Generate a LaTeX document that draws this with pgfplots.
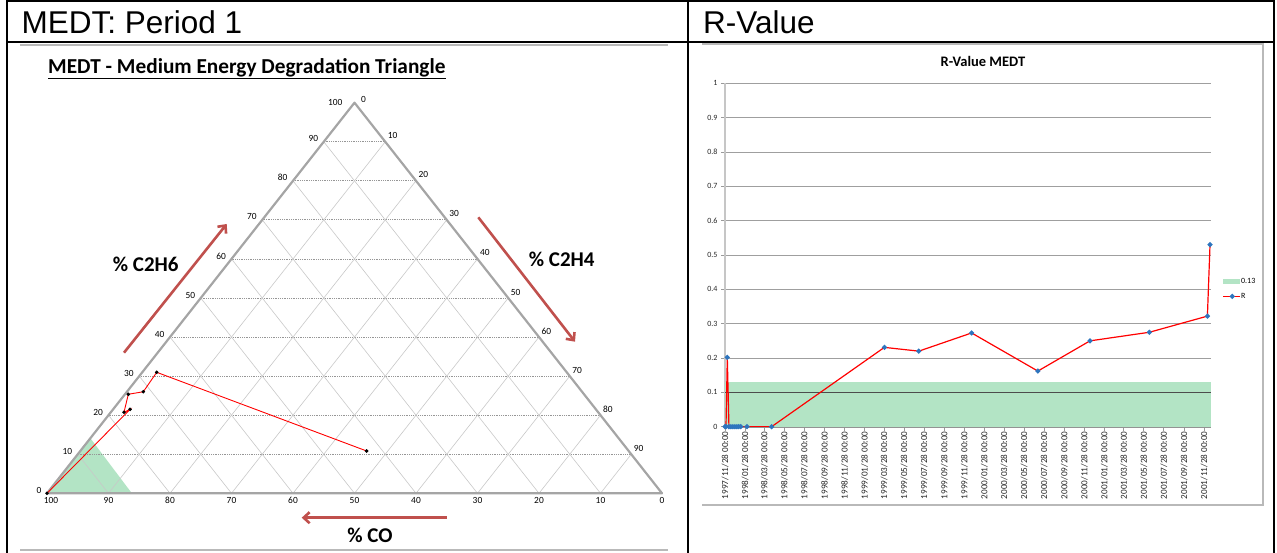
\documentclass[border=0pt]{standalone}
\usepackage{fontspec}
\setmainfont{Carlito}
\newfontfamily\arialf{Liberation Sans}
\usepackage{pgfplots}
\pgfplotsset{compat=1.18}
\usetikzlibrary{arrows.meta}
\definecolor{bandgreen}{RGB}{179,228,197}
\definecolor{arrowred}{RGB}{192,80,77}
\definecolor{mblue}{RGB}{46,117,190}
\definecolor{edgegray}{RGB}{165,165,165}
\definecolor{hgrid}{RGB}{150,150,150}
\definecolor{dgrid}{RGB}{200,200,200}
\tikzset{tl/.style={font=\fontsize{9.4}{11}\selectfont,inner sep=0pt}}
\begin{document}
\begin{tikzpicture}
\begin{scope}[x=1pt,y=1pt]
\useasboundingbox (0,0) rectangle (1277,-553);
% table frame
\draw[black,line width=2pt] (6,-1) -- (1275,-1);
\draw[black,line width=2pt] (6.5,0) -- (6.5,-553);
\draw[black,line width=2pt] (1274,0) -- (1274,-553);
\draw[black,line width=2pt] (688,0) -- (688,-553);
\draw[black,line width=2pt] (6,-42) -- (1275,-42);
\node[anchor=base west,inner sep=0pt,font=\arialf\fontsize{31.5}{36}\selectfont] at (21.5,-34) {MEDT: Period 1};
\node[anchor=base west,inner sep=0pt,font=\arialf\fontsize{31.5}{36}\selectfont] at (703,-34) {R-Value};
% left picture frame
\draw[gray!55,line width=1.5pt] (20,-45) -- (668,-45);
\draw[gray!55,line width=1.5pt] (20,-550) -- (668,-550);
% right chart frame
\draw[gray!55,line width=1.2pt] (702,-44) -- (1263,-44) -- (1263,-505) -- (702,-505);
% left titles and arrows
\node[anchor=base west,inner sep=0pt,font=\bfseries\fontsize{21.3}{24}\selectfont] at (48,-73.5) {\underline{MEDT - Medium Energy Degradation Triangle}};
\node[inner sep=0pt,font=\bfseries\fontsize{21}{24}\selectfont] at (145.7,-264) {\% C2H6};
\node[inner sep=0pt,font=\bfseries\fontsize{21}{24}\selectfont] at (561.7,-259) {\% C2H4};
\node[inner sep=0pt,font=\bfseries\fontsize{21}{24}\selectfont] at (370,-535) {\% CO};
\draw[arrowred,line width=2.6pt,-{Straight Barb[length=6pt,width=11pt]}] (124,-352.7) -- (226.7,-224);
\draw[arrowred,line width=2.6pt,-{Straight Barb[length=6pt,width=11pt]}] (478.3,-217.3) -- (575,-341.7);
\draw[arrowred,line width=2.6pt,-{Straight Barb[length=6pt,width=11pt]}] (446.7,-517.7) -- (301.7,-517.7);
% right title
\node[inner sep=0pt,font=\bfseries\fontsize{14.5}{16}\selectfont] at (983,-61) {R-Value MEDT};
\end{scope}

% ---------------- ternary diagram ----------------
\begin{axis}[at={(47pt,-493.3pt)},anchor=south west,scale only axis,
  width=615pt,height=390.6pt,xmin=0,xmax=100,ymin=0,ymax=100,
  hide axis,clip=false]
\addplot[fill=bandgreen,draw=none] coordinates {(0,0) (7.05,14.1) (13.8,0)} \closedcycle;
% horizontal grid (C2H6)
\begin{scope}[hgrid,densely dotted,line width=0.8pt]
\draw (axis cs:5,10) -- (axis cs:95,10);
\draw (axis cs:10,20) -- (axis cs:90,20);
\draw (axis cs:15,30) -- (axis cs:85,30);
\draw (axis cs:20,40) -- (axis cs:80,40);
\draw (axis cs:25,50) -- (axis cs:75,50);
\draw (axis cs:30,60) -- (axis cs:70,60);
\draw (axis cs:35,70) -- (axis cs:65,70);
\draw (axis cs:40,80) -- (axis cs:60,80);
\draw (axis cs:45,90) -- (axis cs:55,90);
\end{scope}
\begin{scope}[dgrid,line width=0.6pt]
% constant C2H4
\draw (axis cs:10,0) -- (axis cs:55,90);
\draw (axis cs:20,0) -- (axis cs:60,80);
\draw (axis cs:30,0) -- (axis cs:65,70);
\draw (axis cs:40,0) -- (axis cs:70,60);
\draw (axis cs:50,0) -- (axis cs:75,50);
\draw (axis cs:60,0) -- (axis cs:80,40);
\draw (axis cs:70,0) -- (axis cs:85,30);
\draw (axis cs:80,0) -- (axis cs:90,20);
\draw (axis cs:90,0) -- (axis cs:95,10);
% constant CO
\draw (axis cs:10,0) -- (axis cs:5,10);
\draw (axis cs:20,0) -- (axis cs:10,20);
\draw (axis cs:30,0) -- (axis cs:15,30);
\draw (axis cs:40,0) -- (axis cs:20,40);
\draw (axis cs:50,0) -- (axis cs:25,50);
\draw (axis cs:60,0) -- (axis cs:30,60);
\draw (axis cs:70,0) -- (axis cs:35,70);
\draw (axis cs:80,0) -- (axis cs:40,80);
\draw (axis cs:90,0) -- (axis cs:45,90);
\end{scope}
\draw[edgegray,line width=2.2pt,line join=round] (axis cs:0,0) -- (axis cs:50,100) -- (axis cs:100,0) -- cycle;
\addplot[red,line width=0.9pt,mark=*,mark size=1.3pt,mark options={black,fill=black}] coordinates {
(0,0) (13.50,21.5) (12.52,20.74) (13.22,25.35) (15.66,26.0) (17.84,30.98) (51.98,10.83)};
% left labels (C2H6)
\begin{scope}[every node/.style={tl,anchor=east,xshift=-5.5pt,yshift=3pt}]
\node at (axis cs:0,0) {0};
\node at (axis cs:5,10) {10};
\node at (axis cs:10,20) {20};
\node at (axis cs:15,30) {30};
\node at (axis cs:20,40) {40};
\node at (axis cs:25,50) {50};
\node at (axis cs:30,60) {60};
\node at (axis cs:35,70) {70};
\node at (axis cs:40,80) {80};
\node at (axis cs:45,90) {90};
\end{scope}
\node[tl,anchor=east,xshift=-12pt,yshift=0pt] at (axis cs:50,100) {100};
% right labels (C2H4)
\node[tl,anchor=west,xshift=6.5pt,yshift=3pt] at (axis cs:50,100) {0};
\begin{scope}[every node/.style={tl,anchor=west,xshift=2.5pt,yshift=6pt}]
\node at (axis cs:55,90) {10};
\node at (axis cs:60,80) {20};
\node at (axis cs:65,70) {30};
\node at (axis cs:70,60) {40};
\node at (axis cs:75,50) {50};
\node at (axis cs:80,40) {60};
\node at (axis cs:85,30) {70};
\node at (axis cs:90,20) {80};
\node at (axis cs:95,10) {90};
\end{scope}
% bottom labels (CO)
\node[tl,anchor=north,yshift=-4pt,xshift=4pt] at (axis cs:0,0) {100};
\begin{scope}[every node/.style={tl,anchor=north,yshift=-4pt}]
\node at (axis cs:10,0) {90};
\node at (axis cs:20,0) {80};
\node at (axis cs:30,0) {70};
\node at (axis cs:40,0) {60};
\node at (axis cs:50,0) {50};
\node at (axis cs:60,0) {40};
\node at (axis cs:70,0) {30};
\node at (axis cs:80,0) {20};
\node at (axis cs:90,0) {10};
\node at (axis cs:100,0) {0};
\end{scope}
\end{axis}

% ---------------- R-value chart ----------------
\begin{axis}[at={(725pt,-426.7pt)},anchor=south west,scale only axis,
  width=486pt,height=343.4pt,xmin=0,xmax=1482,ymin=0,ymax=1,
  axis x line=bottom,axis y line=left,
  x axis line style={-,draw=gray!85,line width=1.6pt},
  y axis line style={-,draw=gray!45,line width=2pt},
  xtick={0,61,120,181,242,304,365,426,485,546,607,669,730,791,851,912,973,1035,1096,1157,1216,1277,1338,1400,1461},
  xticklabels={1997/11/28 00:00,1998/01/28 00:00,1998/03/28 00:00,1998/05/28 00:00,1998/07/28 00:00,1998/09/28 00:00,1998/11/28 00:00,1999/01/28 00:00,1999/03/28 00:00,1999/05/28 00:00,1999/07/28 00:00,1999/09/28 00:00,1999/11/28 00:00,2000/01/28 00:00,2000/03/28 00:00,2000/05/28 00:00,2000/07/28 00:00,2000/09/28 00:00,2000/11/28 00:00,2001/01/28 00:00,2001/03/28 00:00,2001/05/28 00:00,2001/07/28 00:00,2001/09/28 00:00,2001/11/28 00:00},
  xticklabel style={rotate=90,anchor=east,font=\fontsize{9.2}{10}\selectfont,inner sep=0.5pt,text=black!85},
  ytick={0,0.1,0.2,0.3,0.4,0.5,0.6,0.7,0.8,0.9,1},
  yticklabels={0,0.1,0.2,0.3,0.4,0.5,0.6,0.7,0.8,0.9,1},
  yticklabel style={font=\fontsize{8}{9}\selectfont,text=black!85},
  ymajorgrids,grid style={gray!75,line width=0.9pt},
  tick align=outside,major tick length=4pt,tick style={gray!80,line width=0.8pt},
  legend style={at={(1.0237,0.401)},anchor=west,draw=none,fill=none,
    font=\fontsize{8}{9}\selectfont,row sep=7pt,inner sep=0pt,
    nodes={inner sep=0.5pt}},
  legend cell align=left]
\addplot[fill=bandgreen,draw=none,
  legend image code/.code={\fill[bandgreen] (0pt,-2.8pt) rectangle (16.7pt,2.8pt);}]
  coordinates {(0,0.13) (1482,0.13)} \closedcycle;
\addlegendentry{0.13}
\draw[gray!60!black,line width=0.7pt] (axis cs:0,0.1) -- (axis cs:1482,0.1);
\addplot[red,line width=1.2pt,mark=*,mark size=1.9pt,mark options={mblue,fill=mblue},
  legend image code/.code={\draw[red,line width=1.2pt] (0pt,0pt) -- (16.7pt,0pt); \fill[mblue] (9pt,0pt) circle (1.9pt);}]
  coordinates {(0,0) (3,0) (7,0.202) (12,0) (18,0) (24,0) (30,0) (36,0) (42,0) (48,0) (67,0) (142,0)
  (486,0.231) (591,0.22) (752,0.273) (954,0.162) (1113,0.25) (1294,0.275) (1471,0.322) (1479,0.53)};
\addlegendentry{R}
\end{axis}
\end{tikzpicture}
\end{document}
